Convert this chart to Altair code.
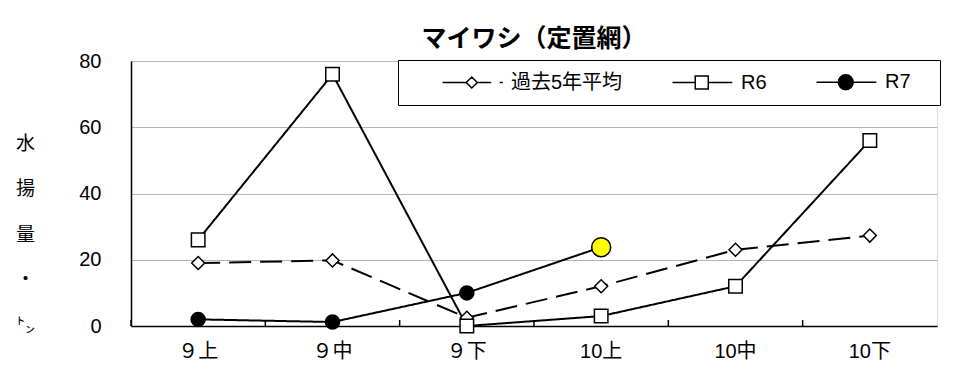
import altair as alt
import pandas as pd

periods = ["９上", "９中", "９下", "10上", "10中", "10下"]
series_names = ["過去5年平均", "R6", "R7"]
avg5 = [19.0, 19.8, 2.5, 12.0, 23.0, 27.3]
r6 = [26.0, 76.0, 0.0, 3.0, 12.0, 56.0]
r7 = [2.0, 1.2, 10.0, 23.8]
y_ticks = [0, 20, 40, 60, 80]
chart_title = "マイワシ（定置網）"
y_title_lines = ["水", "揚", "量", "・", "㌧"]

rows = []
for name, vals in zip(series_names, [avg5, r6, r7]):
    for p, v in zip(periods, vals):
        rows.append({"period": p, "series": name, "value": v})
df = pd.DataFrame(rows)
latest_period = periods[len(r7) - 1]
period_df = pd.DataFrame({"period": periods})

W, H = 806, 265
FONT = "Liberation Sans, Noto Sans CJK JP"
CJK = "Noto Sans CJK JP"

xscale = alt.Scale(type="band", domain=periods, paddingInner=0, paddingOuter=0)
main_x_axis = alt.Axis(orient="bottom", title=None, labelAngle=0, labelFont=FONT,
                       labelFontSize=20, labelColor="black", labelPadding=15,
                       ticks=False, domainColor="black", domainWidth=1.5, grid=False)

def xenc(band=0.5):
    return alt.X("period:N", sort=periods, scale=xscale, bandPosition=band, axis=main_x_axis)

y_enc = alt.Y("value:Q", scale=alt.Scale(domain=[0, 80], nice=False),
              axis=alt.Axis(values=y_ticks, title=y_title_lines, titleAngle=0,
                            titleX=-106, titleY=73, titleBaseline="top", titleAlign="center",
                            titleFont=CJK, titleFontSize=19, titleFontWeight="normal",
                            titleLineHeight=45.5, titleColor="black",
                            labelFont=FONT, labelFontSize=20, labelColor="black",
                            labelPadding=30, ticks=False, gridColor="#b4b4b4",
                            gridWidth=1, domainColor="black", domainWidth=1.5))

base = alt.Chart(df)

lines = base.mark_line(color="black", strokeWidth=2).encode(
    x=xenc(), y=y_enc,
    strokeDash=alt.StrokeDash("series:N", scale=alt.Scale(domain=series_names,
                              range=[[22, 9], [1, 0], [1, 0]]), legend=None),
)

# inward tick marks at the category boundaries of the x axis
x_ticks = alt.Chart(period_df).mark_rule(color="black", strokeWidth=1.5).encode(
    x=xenc(band=0), y=alt.value(H), y2=alt.value(H - 6),
)

points = base.mark_point(filled=True, stroke="black", strokeWidth=1.5, opacity=1).encode(
    x=xenc(), y=y_enc,
    shape=alt.Shape("series:N", scale=alt.Scale(domain=series_names,
                    range=["diamond", "square", "circle"]), legend=None),
    fill=alt.Fill("series:N", scale=alt.Scale(domain=series_names,
                  range=["white", "white", "black"]), legend=None),
    size=alt.Size("series:N", scale=alt.Scale(domain=series_names,
                  range=[169, 196, 225]), legend=None),
)

yellow = base.transform_filter(
    (alt.datum.series == "R7") & (alt.datum.period == latest_period)
).mark_point(filled=True, fill="#ffff00", stroke="black", strokeWidth=1.5,
             size=361, opacity=1).encode(x=xenc(), y=y_enc)

legend_paths = [
    "M-1,0H2.65M3.5,-0.85L4.35,0L3.5,0.85L2.65,0ZM4.35,0H6.5M7.8,0H8.3",
    "M-1,0H2.5M2.5,-1H4.5V1H2.5ZM4.5,0H8.2",
    "M-1,0H2.35M2.35,0A1.15,1.15,0,1,1,4.65,0A1.15,1.15,0,1,1,2.35,0ZM4.65,0H8.2M15.6,0",
]
label_expr = f"datum.label == '{series_names[0]}' ? datum.label + '    ' : datum.label"
leg = alt.Legend(title=" ", titleOrient="left", titleFontSize=10, titlePadding=29,
                 orient="none", legendX=267, legendY=-1, direction="horizontal",
                 labelFont=FONT, labelFontSize=20, labelColor="black", labelOffset=52,
                 labelExpr=label_expr,
                 columnPadding=46, symbolSize=169, symbolStrokeWidth=1.5,
                 symbolStrokeColor="black", fillColor="white", strokeColor="black",
                 padding=12)

legend_layer = base.transform_filter("false").mark_point(
    filled=True, stroke="black", strokeWidth=1.5, size=169, opacity=1
).encode(
    x=xenc(), y=y_enc,
    shape=alt.Shape("series:N", scale=alt.Scale(domain=series_names, range=legend_paths), legend=leg),
    fill=alt.Fill("series:N", scale=alt.Scale(domain=series_names,
                  range=["white", "white", "black"]), legend=leg),
    stroke=alt.Stroke("series:N", scale=alt.Scale(domain=series_names,
                      range=["black", "black", "black"]), legend=leg),
)

chart = alt.layer(x_ticks, lines, points, yellow, legend_layer).resolve_scale(
    shape="independent", fill="independent", stroke="independent"
).properties(
    width=W, height=H,
    padding={"left": 131, "top": 61, "right": 23, "bottom": 48},
    autosize=alt.AutoSizeParams(type="none"),
    title=alt.TitleParams(chart_title, font=CJK, fontSize=25, fontWeight="bold",
                          anchor="middle", frame="group", offset=-1, color="black"),
).configure_view(stroke=None).configure(background="white")

chart.save("out.html", embed_options={"renderer": "svg", "actions": False})
